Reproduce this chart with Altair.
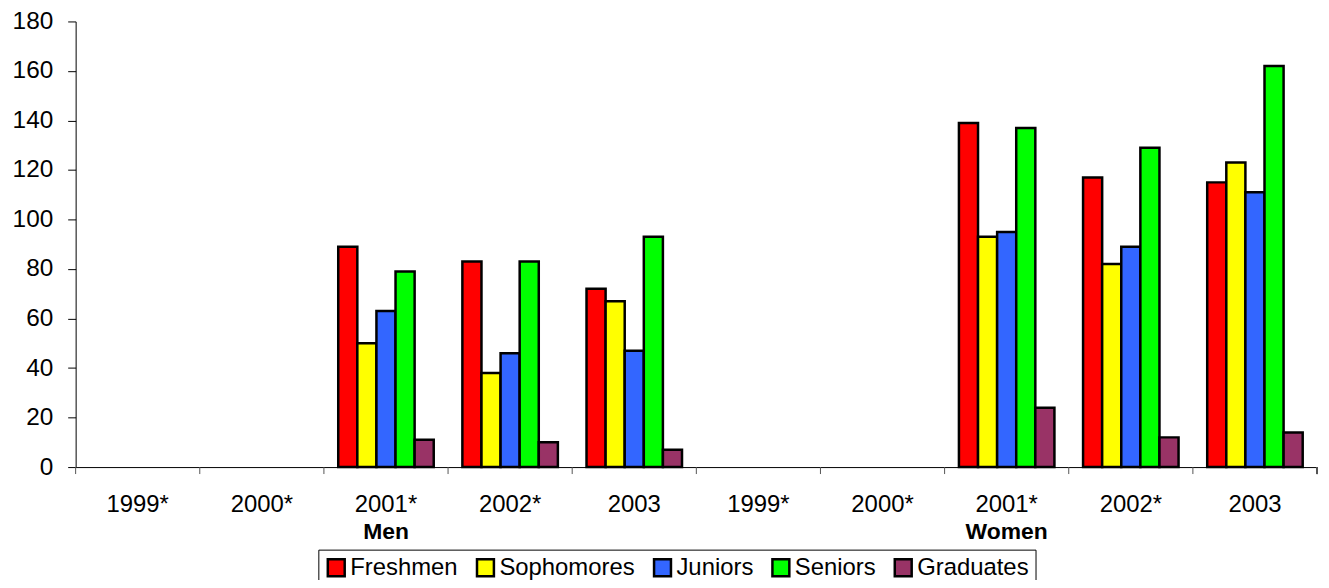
import altair as alt
import pandas as pd

groups = ["Men", "Women"]
years = ["1999*", "2000*", "2001*", "2002*", "2003"]
series = ["Freshmen", "Sophomores", "Juniors", "Seniors", "Graduates"]
colors = ["#FF0000", "#FFFF00", "#3366FF", "#00FF00", "#993366"]

# years that carry values (1999* and 2000* are empty)
data_years = ["2001*", "2002*", "2003"]
men_freshmen = [89, 83, 72]
men_sophomores = [50, 38, 67]
men_juniors = [63, 46, 47]
men_seniors = [79, 83, 93]
men_graduates = [11, 10, 7]
women_freshmen = [139, 117, 115]
women_sophomores = [93, 82, 123]
women_juniors = [95, 89, 111]
women_seniors = [137, 129, 162]
women_graduates = [24, 12, 14]

values = {
    "Men": [men_freshmen, men_sophomores, men_juniors, men_seniors, men_graduates],
    "Women": [women_freshmen, women_sophomores, women_juniors, women_seniors, women_graduates],
}

rows = []
for g in groups:
    for si, s in enumerate(series):
        for yi, y in enumerate(data_years):
            rows.append({"key": f"{g}|{y}", "series": s, "value": values[g][si][yi]})
df = pd.DataFrame(rows)

keys = [f"{g}|{y}" for g in groups for y in years]
df_ticks = pd.DataFrame({"key": keys})
df_groups = pd.DataFrame({"key": [f"{g}|2001*" for g in groups], "label": groups})

FONT = "Liberation Sans, Arial, sans-serif"
W, H = 1248, 448

xscale = alt.Scale(domain=keys, paddingInner=0, paddingOuter=0)
xaxis = alt.Axis(
    title=None,
    labelExpr="split(datum.label, '|')[1]",
    ticks=False,
    tickSize=0,
    labelAngle=0,
    labelFontSize=24,
    labelFont=FONT,
    labelColor="black",
    labelPadding=26,
    domainColor="black",
    domainWidth=1,
    grid=False,
)

bars = alt.Chart(df).mark_bar(stroke="black", strokeWidth=2.5, opacity=1).encode(
    x=alt.X("key:N", scale=xscale, axis=xaxis),
    xOffset=alt.XOffset("series:N", scale=alt.Scale(domain=series, paddingInner=0, paddingOuter=0.75)),
    y=alt.Y(
        "value:Q",
        scale=alt.Scale(domain=[0, 180]),
        axis=alt.Axis(
            title=None,
            values=list(range(0, 181, 20)),
            grid=False,
            tickSize=8,
            tickColor="black",
            domainColor="black",
            labelFontSize=24.5,
            labelFont=FONT,
            labelColor="black",
            labelPadding=15,
        ),
    ),
    color=alt.Color(
        "series:N",
        scale=alt.Scale(domain=series, range=colors),
        legend=alt.Legend(
            title=None,
            orient="none",
            legendX=244,
            legendY=531,
            direction="horizontal",
            columns=5,
            symbolType="square",
            symbolSize=289,
            symbolStrokeColor="black",
            symbolStrokeWidth=2.5,
            symbolOpacity=1,
            labelFontSize=24,
            labelFont=FONT,
            labelColor="black",
            labelOffset=2,
            columnPadding=13,
            padding=6,
            strokeColor="black",
            fillColor="white",
        ),
    ),
)

ticks = alt.Chart(df_ticks).mark_rule(color="#555555", strokeWidth=1).encode(
    x=alt.X("key:N", scale=xscale, axis=xaxis, bandPosition=0),
    y=alt.value(H),
    y2=alt.value(H + 7),
)

end_tick = alt.Chart(df_ticks).mark_rule(color="#555555", strokeWidth=1).encode(
    x=alt.value(W),
    y=alt.value(H),
    y2=alt.value(H + 7),
)

group_labels = alt.Chart(df_groups).mark_text(
    fontSize=23, fontWeight="bold", font=FONT, baseline="alphabetic", color="black"
).encode(
    x=alt.X("key:N", scale=xscale, axis=xaxis),
    y=alt.value(520),
    text="label:N",
)

chart = (
    alt.layer(bars, ticks, end_tick, group_labels)
    .properties(
        width=W,
        height=H,
        autosize=alt.AutoSizeParams(type="none"),
        padding={"left": 68, "top": 12, "right": 4, "bottom": 112},
        background="white",
    )
    .configure_view(stroke=None)
)

chart.save("out.html", embed_options={"renderer": "svg", "actions": False})
